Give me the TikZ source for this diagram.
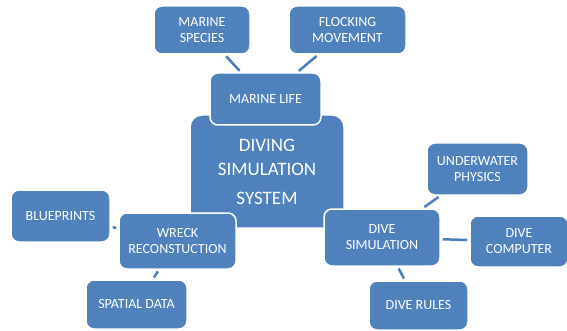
\documentclass[tikz,border=0pt]{standalone}
\usepackage{fontspec}
\setmainfont{Carlito}
\definecolor{boxblue}{HTML}{4F81BD}
\definecolor{lineblue}{HTML}{4A7EBB}
\begin{document}
\begin{tikzpicture}[x=1pt,y=-1pt,
  box/.style={draw=white, line width=1.5pt, fill=boxblue, rounded corners=8pt,
    text=white, align=center, inner sep=0pt, font=\fontsize{14}{16}\selectfont},
  link/.style={draw=lineblue, line width=2.5pt, shorten <=2pt, shorten >=2pt}]
\useasboundingbox (0,0) rectangle (567,331);
\node[box, minimum width=96pt, minimum height=48pt] (species) at (202,30) {MARINE\\SPECIES};
\node[box, minimum width=117pt, minimum height=48pt] (flock) at (347.5,30) {FLOCKING\\MOVEMENT};
\node[box, minimum width=101pt, minimum height=52pt] (physics) at (477.5,169) {UNDERWATER\\PHYSICS};
\node[box, minimum width=98pt, minimum height=51pt] (computer) at (519,241.5) {DIVE\\COMPUTER};
\node[box, minimum width=99pt, minimum height=49pt] (rules) at (418.5,305.5) {DIVE RULES};
\node[box, minimum width=99pt, minimum height=52pt] (blue) at (60.5,216) {BLUEPRINTS};
\node[box, minimum width=101pt, minimum height=49pt] (spatial) at (136.5,304.5) {SPATIAL DATA};
\node[box, minimum width=154pt, minimum height=113pt, rounded corners=12pt,
  font=\fontsize{19}{24}\selectfont] (center) at (267,171.5) {DIVING\\SIMULATION\\[5pt]SYSTEM};
\node[box, minimum width=111pt, minimum height=52pt] (life) at (265.5,99) {MARINE LIFE};
\node[box, minimum width=117pt, minimum height=56pt] (wreck) at (177.5,241) {WRECK\\RECONSTUCTION};
\node[box, minimum width=116pt, minimum height=57pt] (sim) at (382,237.5) {DIVE\\SIMULATION};
\draw[link] (species) -- (life);
\draw[link] (flock) -- (life);
\draw[link] (blue) -- (wreck);
\draw[link] (wreck) -- (spatial);
\draw[link] (physics) -- (sim);
\draw[link] (sim) -- (computer);
\draw[link] (sim) -- (rules);
\end{tikzpicture}
\end{document}
